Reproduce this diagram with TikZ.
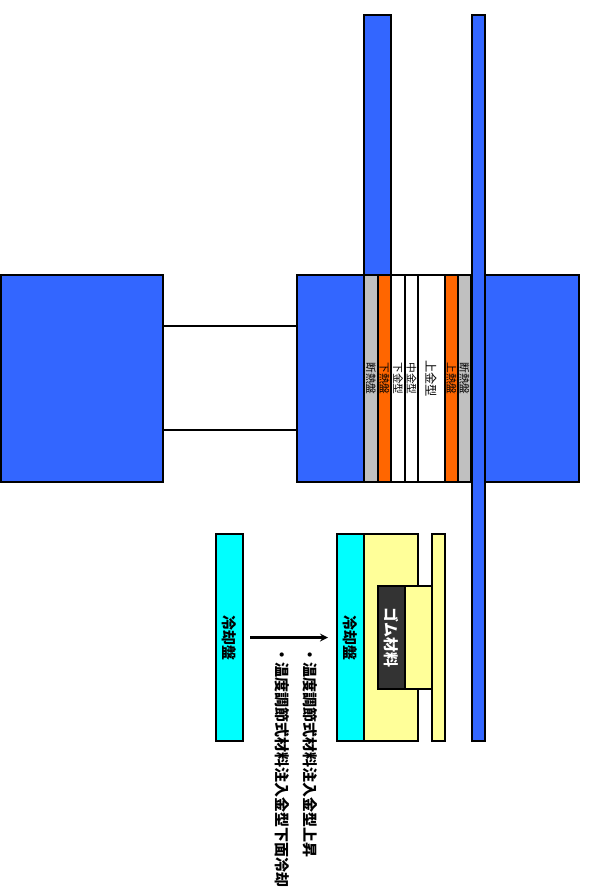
\documentclass[tikz,border=0pt]{standalone}
\usepackage{fontspec}
\setmainfont{Noto Sans CJK JP}
\usepackage{tikz}
\usetikzlibrary{positioning, arrows, calc}
\definecolor{ramblue}{HTML}{3366FF}
\definecolor{heatorange}{HTML}{FF6600}
\definecolor{insulgray}{HTML}{C0C0C0}
\definecolor{coolcyan}{HTML}{00FFFF}
\definecolor{moldyellow}{HTML}{FFFF99}
\definecolor{rubberdark}{HTML}{333333}
\newcommand{\vtext}[1]{\rotatebox{-90}{\raisebox{-0.38em}[0pt][0pt]{#1}}}
\tikzset{
	>=stealth, % arrow heads
	plate/.style={draw=black, line width=2pt, inner sep=0pt, outer sep=0pt}, % every block of the press
	tiny label/.style={font=\fontsize{10.7}{11}\selectfont},
	mid label/.style={font=\fontsize{12.3}{13}\selectfont},
	big label/.style={font=\fontsize{15}{15}\selectfont\bfseries},
	note/.style={big label, inner sep=0pt, outer sep=0pt, anchor=north},
}
\begin{document}
\begin{tikzpicture}[x=1pt, y=-1pt, node distance=0pt]
        \useasboundingbox (0,0) rectangle (589,894);
        % Press: base, bed and the stack of plates
        \node[plate, fill=ramblue, minimum width=162pt, minimum height=207pt] (base) at (82,378.5) {};
        \node[plate, fill=ramblue, minimum width=67pt, minimum height=207pt] (bed) at (330.5,378.5) {};
        \node[plate, fill=insulgray, minimum width=14pt, minimum height=207pt, right=of bed, tiny label] (lowins) {\vtext{断熱盤}};
        \node[plate, fill=heatorange, minimum width=13pt, minimum height=207pt, right=of lowins, tiny label] (lowheat) {\vtext{下熱盤}};
        \node[plate, fill=white, minimum width=14pt, minimum height=207pt, right=of lowheat, tiny label] (lowmold) {\vtext{下金型}};
        \node[plate, fill=white, minimum width=13pt, minimum height=207pt, right=of lowmold, tiny label] (midmold) {\vtext{中金型}};
        \node[plate, fill=white, minimum width=27pt, minimum height=207pt, right=of midmold, mid label] (upmold) {\vtext{上金型}};
        \node[plate, fill=heatorange, minimum width=13pt, minimum height=207pt, right=of upmold, tiny label] (upheat) {\vtext{上熱盤}};
        \node[plate, fill=insulgray, minimum width=13pt, minimum height=207pt, right=of upheat, tiny label] (upins) {\vtext{断熱盤}};
        \node[plate, fill=ramblue, minimum width=94pt, minimum height=207pt] (head) at (532,378.5) {};
        \node[plate, fill=ramblue, minimum width=27pt, minimum height=260pt] (ram) at (377.5,145) {};
        \node[plate, fill=ramblue, minimum width=13pt, minimum height=726pt] (rod) at (478.5,378) {};

        % Tie bars
        \coordinate (tieup) at (230,326);
        \coordinate (tielow) at (230,430);
        \draw[line width=2pt] (base.east |- tieup) -- (bed.west |- tieup);
        \draw[line width=2pt] (base.east |- tielow) -- (bed.west |- tielow);

        % Cooling press below
        \node[plate, fill=coolcyan, minimum width=27pt, minimum height=207pt, big label] (coolleft) at (229.5,637.5) {\vtext{冷却盤}};
        \node[plate, fill=coolcyan, minimum width=27pt, minimum height=207pt, big label] (coolright) at (350.5,637.5) {\vtext{冷却盤}};
        \node[plate, fill=moldyellow, minimum width=54pt, minimum height=207pt, right=of coolright] (moldbody) {};
        \node[plate, fill=rubberdark, text=white, minimum width=27pt, minimum height=103pt, big label] (rubber) at (391.5,637.5) {\vtext{ゴム材料}};
        \node[plate, fill=moldyellow, minimum width=27pt, minimum height=103pt, right=of rubber] (moldcore) {};
        \node[plate, fill=moldyellow, minimum width=13pt, minimum height=207pt] (moldlid) at (438.5,637.5) {};

        \draw[->, line width=2.5pt, shorten <=7pt, shorten >=9pt] (coolleft) -- (coolright);

        \node[note] (noteup) at (310,647) {\vtext{・温度調節式材料注入金型上昇}};
        \node[note] (notecool) at (282,647) {\vtext{・温度調節式材料注入金型下面冷却}};
    \end{tikzpicture}
\end{document}
